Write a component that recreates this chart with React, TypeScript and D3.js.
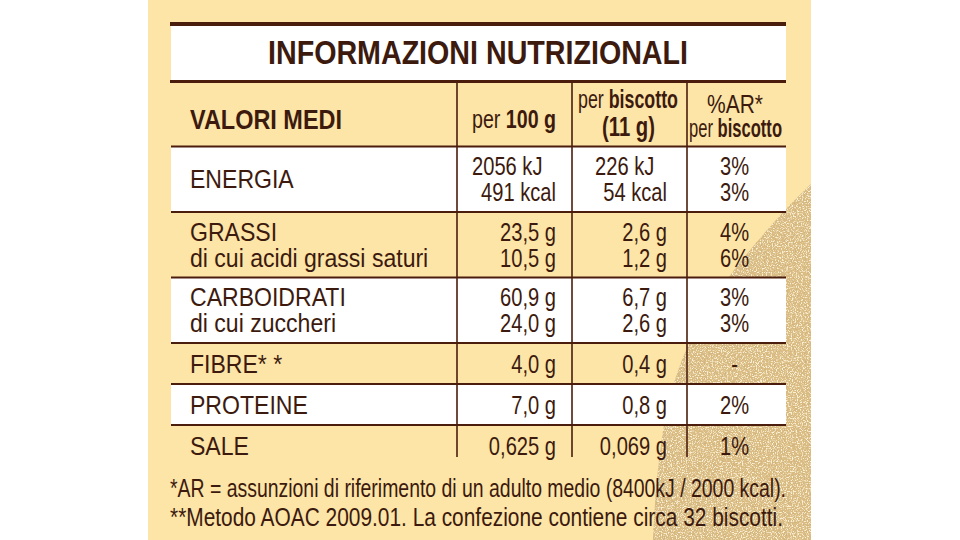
import React from 'react';
import * as d3 from 'd3';

const title = 'INFORMAZIONI NUTRIZIONALI';
const headerLabel = 'VALORI MEDI';
const rowLabels: string[][] = [
  ['ENERGIA'],
  ['GRASSI', 'di cui acidi grassi saturi'],
  ['CARBOIDRATI', 'di cui zuccheri'],
  ['FIBRE* *'],
  ['PROTEINE'],
  ['SALE'],
];
const per100g: string[][] = [
  ['2056 kJ', '491 kcal'],
  ['23,5 g', '10,5 g'],
  ['60,9 g', '24,0 g'],
  ['4,0 g'],
  ['7,0 g'],
  ['0,625 g'],
];
const perBiscotto: string[][] = [
  ['226 kJ', '54 kcal'],
  ['2,6 g', '1,2 g'],
  ['6,7 g', '2,6 g'],
  ['0,4 g'],
  ['0,8 g'],
  ['0,069 g'],
];
const arPercent: string[][] = [
  ['3%', '3%'],
  ['4%', '6%'],
  ['3%', '3%'],
  ['-'],
  ['2%'],
  ['1%'],
];
const footnotes = [
  '*AR = assunzioni di riferimento di un adulto medio (8400kJ / 2000 kcal).',
  '**Metodo AOAC 2009.01. La confezione contiene circa 32 biscotti.',
];

const W = 960;
const H = 540;
const INK = '#3c1a0e';
const LINE = '#4a1d0c';
const CREAM = '#fce5a7';
const FONT = '"Liberation Sans", Arial, sans-serif';

type TProps = {
  x: number;
  y: number;
  anchor?: 'start' | 'middle' | 'end';
  sx?: number;
  len?: number;
  size?: number;
  weight?: string | number;
  children: React.ReactNode;
};

function T({ x, y, anchor = 'start', sx = 1, len, size = 26.5, weight = 'normal', children }: TProps) {
  if (len) {
    return (
      <text x={x} y={y} textAnchor={anchor} fontSize={size} fontWeight={weight} fill={INK}
        fontFamily={FONT} textLength={len} lengthAdjust="spacingAndGlyphs">
        {children}
      </text>
    );
  }
  return (
    <g transform={`translate(${x},${y}) scale(${sx},1)`}>
      <text x={0} y={0} textAnchor={anchor} fontSize={size} fontWeight={weight} fill={INK} fontFamily={FONT}>
        {children}
      </text>
    </g>
  );
}

export default function App() {
  const tableX0 = 171;
  const tableX1 = 786;
  const colEdges = [tableX0, 457, 572, 687, tableX1];
  const headerBottom = 146.5;

  const nLines = rowLabels.map((r, i) =>
    Math.max(r.length, per100g[i].length, perBiscotto[i].length, arPercent[i].length)
  );
  const rowH = d3.scaleLinear().domain([1, 2]).range([41, 65.5]);
  const bounds = [headerBottom, ...Array.from(d3.cumsum(nLines.map((n) => rowH(n)))).map((v) => headerBottom + v)];
  const baseline = (i: number, j: number, n: number) => {
    const top = bounds[i];
    const h = bounds[i + 1] - top;
    return top + (h - 26 * n) / 2 + 22 + 26 * j;
  };

  const labelX = 190;
  const c1Right = colEdges[2] - 16;
  const c2Right = colEdges[3] - 20;
  const c3Mid = (colEdges[3] + colEdges[4]) / 2 - 2;

  // biscuit edge
  const edge: [number, number][] = [
    [811, 184], [787, 208], [762, 236], [738, 265], [714, 298], [694, 333], [679, 368],
    [668, 405], [661, 445], [656, 490], [653, 540],
  ];
  const edgeLine = d3.line().curve(d3.curveCatmullRom)(edge) || '';
  const biscuitPath = `${edgeLine} L 811 540 Z`;

  const sxLabel = 0.87;
  const sxNum = 0.76;

  return (
    <svg width={W} height={H} style={{ position: 'absolute', left: 0, top: 0, background: '#fff' }}>
      <defs>
        <filter id="grain" x="0" y="0" width="100%" height="100%">
          <feTurbulence type="fractalNoise" baseFrequency="0.9" numOctaves="3" seed="4" result="n" />
          <feColorMatrix in="n" type="matrix"
            values="0 0 0 0 0.62  0 0 0 0 0.45  0 0 0 0 0.22  5 0 0 0 -2.55" result="c" />
          <feComposite in="c" in2="SourceGraphic" operator="in" />
        </filter>
        <filter id="grain2" x="0" y="0" width="100%" height="100%">
          <feTurbulence type="fractalNoise" baseFrequency="0.8" numOctaves="3" seed="11" result="n" />
          <feColorMatrix in="n" type="matrix"
            values="0 0 0 0 0.97  0 0 0 0 0.88  0 0 0 0 0.66  0 5 0 0 -2.5" result="c" />
          <feComposite in="c" in2="SourceGraphic" operator="in" />
        </filter>
      </defs>
      <rect x={0} y={0} width={W} height={H} fill="#fff" />
      <rect x={148} y={0} width={811 - 148} height={H} fill={CREAM} />
      <path d={biscuitPath} fill="#dbbd84" />
      <path d={biscuitPath} fill="#000" filter="url(#grain)" />
      <path d={biscuitPath} fill="#000" filter="url(#grain2)" />

      {/* title band */}
      <rect x={tableX0} y={26} width={tableX1 - tableX0} height={54} fill="#fff" />
      <line x1={tableX0 - 1} x2={tableX1} y1={24} y2={24} stroke={LINE} strokeWidth={4} />
      <line x1={tableX0 - 1} x2={tableX1} y1={81.5} y2={81.5} stroke={LINE} strokeWidth={3} />
      <T x={268} y={64} size={34} weight="bold" len={420}>{title}</T>

      {/* row backgrounds */}
      {rowLabels.map((_, i) =>
        i % 2 === 0 ? (
          <rect key={`bg${i}`} x={tableX0} y={bounds[i]} width={tableX1 - tableX0} height={bounds[i + 1] - bounds[i]} fill="#fff" />
        ) : null
      )}

      {/* horizontal rules */}
      {bounds.slice(0, rowLabels.length).map((y, i) => (
        <line key={`h${i}`} x1={tableX0} x2={tableX1} y1={y} y2={y} stroke={LINE} strokeWidth={2} />
      ))}

      {/* vertical rules */}
      {colEdges.slice(1, 4).map((x, i) => (
        <line key={`v${i}`} x1={x} x2={x} y1={83} y2={457} stroke={LINE} strokeWidth={1.6} />
      ))}

      {/* header */}
      <T x={190} y={129} size={28} weight="bold" len={152}>{headerLabel}</T>
      <T x={472} y={128} size={26.5} len={84}>
        per <tspan fontWeight="bold">100 g</tspan>
      </T>
      <T x={578} y={108} size={25} len={100}>
        per <tspan fontWeight="bold">biscotto</tspan>
      </T>
      <T x={602} y={136} size={27} weight="bold" len={53}>(11 g)</T>
      <T x={707} y={113} size={26} len={56}>%AR*</T>
      <T x={689} y={137} size={25} len={93}>
        per <tspan fontWeight="bold">biscotto</tspan>
      </T>

      {/* body */}
      {rowLabels.map((lines, i) =>
        lines.map((s, j) => (
          <T key={`l${i}${j}`} x={labelX} y={baseline(i, j, lines.length)} sx={sxLabel}>{s}</T>
        ))
      )}
      {per100g.map((lines, i) =>
        lines.map((s, j) =>
          i === 0 && j === 0 ? (
            <T key={`a${i}${j}`} x={colEdges[1] + 15} y={baseline(i, j, lines.length)} sx={sxNum}>{s}</T>
          ) : (
            <T key={`a${i}${j}`} x={c1Right} y={baseline(i, j, lines.length)} anchor="end" sx={sxNum}>{s}</T>
          )
        )
      )}
      {perBiscotto.map((lines, i) =>
        lines.map((s, j) =>
          i === 0 && j === 0 ? (
            <T key={`b${i}${j}`} x={colEdges[2] + 23} y={baseline(i, j, lines.length)} sx={sxNum}>{s}</T>
          ) : (
            <T key={`b${i}${j}`} x={c2Right} y={baseline(i, j, lines.length)} anchor="end" sx={sxNum}>{s}</T>
          )
        )
      )}
      {arPercent.map((lines, i) =>
        lines.map((s, j) => (
          <T key={`c${i}${j}`} x={c3Mid} y={baseline(i, j, lines.length)} anchor="middle" sx={sxNum}>{s}</T>
        ))
      )}

      {/* footnotes */}
      {footnotes.map((s, i) => (
        <T key={`f${i}`} x={170} y={497 + 29 * i} size={26.5} len={i === 0 ? 616 : 613}>{s}</T>
      ))}
    </svg>
  );
}
